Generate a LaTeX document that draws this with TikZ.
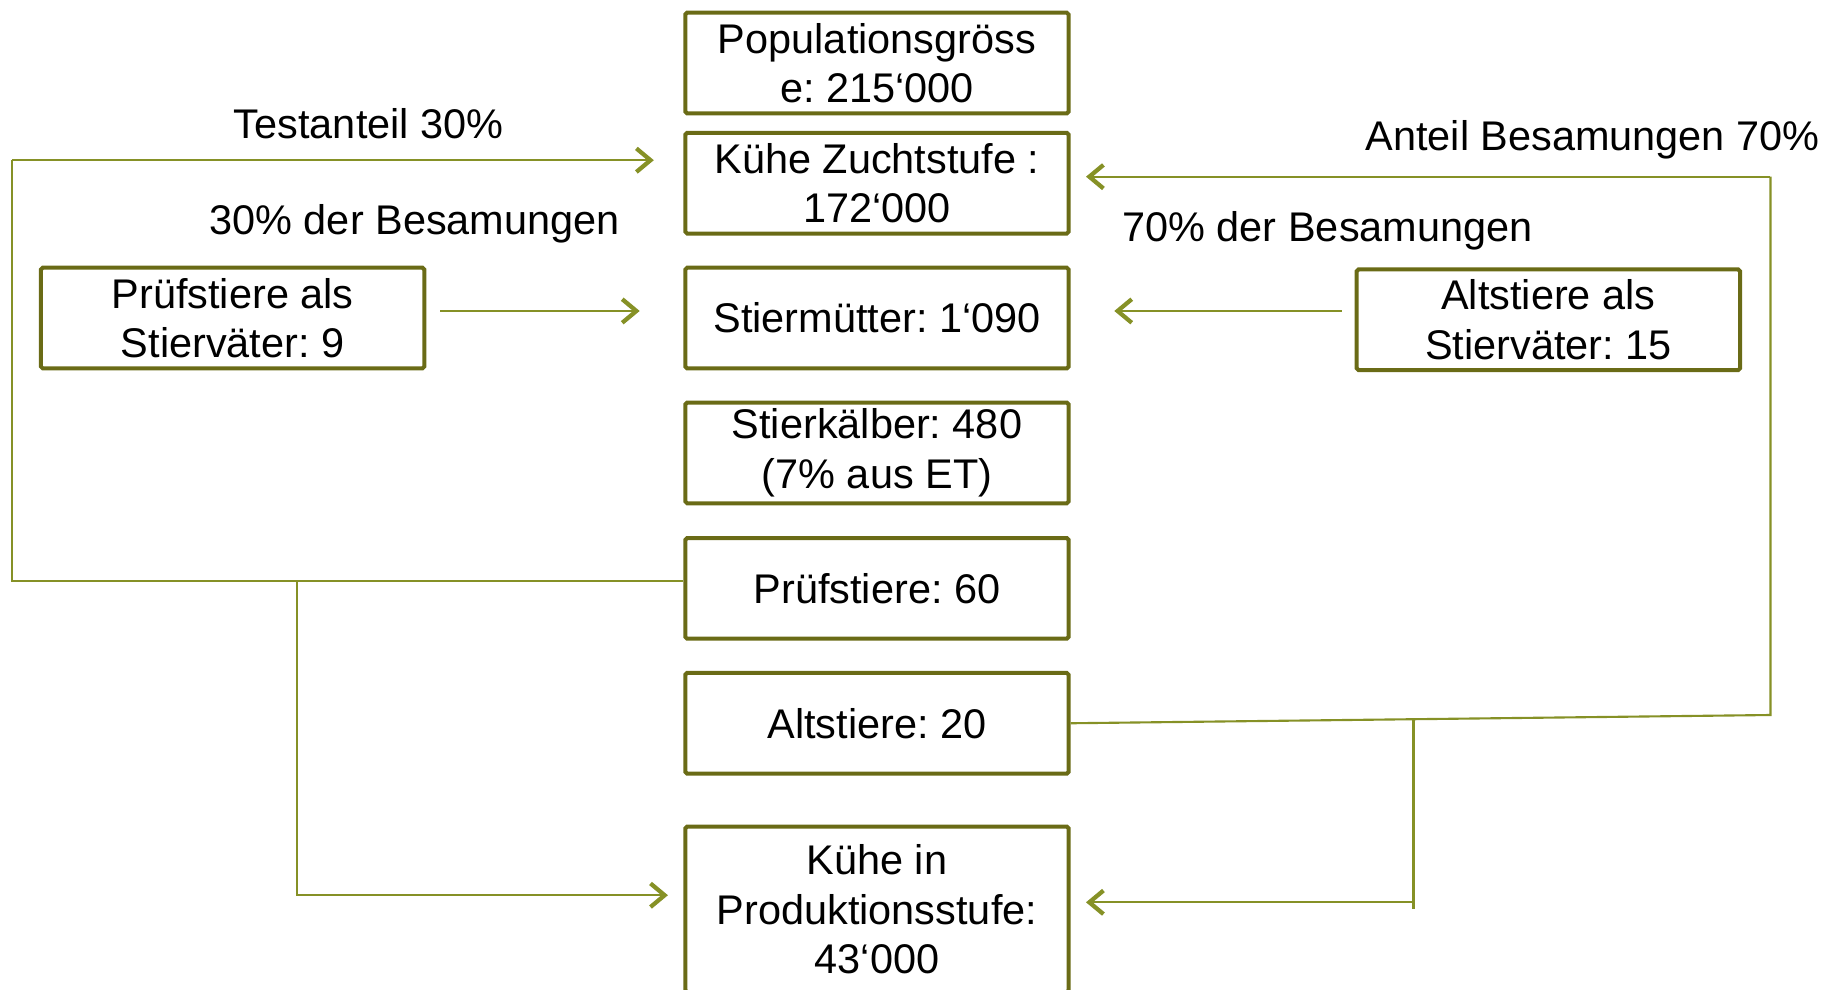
\documentclass[tikz,border=0pt]{standalone}
\usepackage{fontspec}
\setmainfont{Liberation Sans}
\frenchspacing
\usetikzlibrary{arrows.meta}
\definecolor{olivebox}{RGB}{106,107,22}
\definecolor{olivelink}{RGB}{134,145,38}
\begin{document}
\begin{tikzpicture}[x=0.5pt,y=-0.5pt,
  font=\fontsize{17.6pt}{21pt}\selectfont,
  box/.style={draw=olivebox,line width=1.7pt,rounded corners=0.8pt,align=center,
    minimum width=162.75pt,minimum height=42.75pt,inner sep=0pt},
  link/.style={draw=olivelink,line width=0.9pt},
  tip/.style={-{Straight Barb[length=6pt,width=10pt,line width=1.8pt]}}]
  \useasboundingbox (0,0) rectangle (1568,840);
  % middle column
  \node[box] (pop) at (744.5,53.5) {Populationsgröss\\e: 215‘000};
  \node[box] (zucht) at (744.5,155.5) {Kühe Zuchtstufe :\\172‘000};
  \node[box] (muetter) at (744.5,270) {Stiermütter: 1‘090};
  \node[box] (kaelber) at (744.5,384.5) {Stierkälber: 480\\(7\% aus ET)};
  \node[box] (pruef) at (744.5,499.5) {Prüfstiere: 60};
  \node[box] (alt) at (744.5,614) {Altstiere: 20};
  \node[box,minimum height=70.3pt] (prod) at (744.5,772) {Kühe in\\Produktionsstufe:\\43‘000};
  % sires
  \node[box] (pvater) at (197.5,270) {Prüfstiere als\\Stierväter: 9};
  \node[box] (avater) at (1314.5,271.5) {Altstiere als\\Stierväter: 15};
  % labels
  \node (testanteil) at (313,105) {Testanteil 30\%};
  \node (pbesam) at (352,190) {30\% der Besamungen};
  \node (aanteil) at (1352,119) {Anteil Besamungen 70\%};
  \node (abesam) at (1127,196) {70\% der Besamungen};
  % corners
  \coordinate (lt) at (10,136);
  \coordinate (lb) at (10,493);
  \coordinate (lsplit) at (252,493);
  \coordinate (ldown) at (252,760);
  \coordinate (rt) at (1503,150);
  \coordinate (rb) at (1503,607);
  \coordinate (rsplit) at (1200,610);
  \coordinate (rdown) at (1200,766);
  % left loop
  \draw[link] (pruef.west |- lb) -- (lb) -- (lt);
  \draw[link,tip] (lt) -- ([xshift=-12.5pt]zucht.west |- lt);
  \draw[link,tip] (lsplit) -- (ldown) -- ([xshift=-6.5pt]prod.west |- ldown);
  \draw[link,tip] ([xshift=6pt,yshift=3pt]pvater.east) -- ([xshift=-18.5pt,yshift=3pt]muetter.west);
  % right loop
  \draw[link] (alt.east) -- (rb) -- (rt);
  \draw[link,tip] (rt) -- ([xshift=6.5pt]zucht.east |- rt);
  \draw[link] (rsplit) -- ++(0,162);
  \draw[link,tip] (rdown) -- ([xshift=6.5pt]prod.east |- rdown);
  \draw[link,tip] ([xshift=-5.5pt,yshift=3.75pt]avater.west) -- ([xshift=18.5pt,yshift=3pt]muetter.east);
\end{tikzpicture}
\end{document}
